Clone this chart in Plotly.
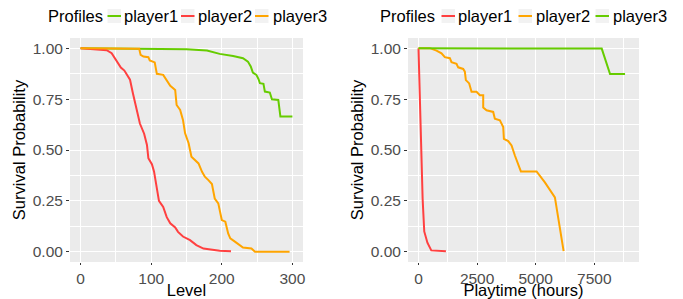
import plotly.graph_objects as go

# ---------------- Left panel: survival vs Level ----------------
lvl_p1_x = [0, 150, 179, 197, 216, 230, 237, 241, 244, 249, 252, 254, 259, 261, 268, 271, 280, 283, 300]
lvl_p1_y = [1.0, 0.995, 0.989, 0.972, 0.962, 0.951, 0.934, 0.91, 0.88, 0.869, 0.848, 0.828, 0.825, 0.787, 0.782, 0.749, 0.746, 0.664, 0.664]

lvl_p2_x = [0, 37, 44, 51, 57, 62, 68, 70, 74, 79, 84, 90, 94, 96, 101, 104, 108, 111, 117, 122, 127, 134, 138, 145, 155, 164, 174, 188, 197, 213]
lvl_p2_y = [1.0, 0.99, 0.975, 0.935, 0.905, 0.89, 0.86, 0.845, 0.78, 0.71, 0.63, 0.58, 0.525, 0.46, 0.43, 0.395, 0.32, 0.25, 0.22, 0.17, 0.14, 0.12, 0.098, 0.075, 0.057, 0.033, 0.016, 0.011, 0.005, 0.003]

lvl_p3_x = [0, 83, 85, 89, 96, 98, 105, 108, 117, 122, 127, 134, 136, 141, 145, 148, 153, 157, 162, 167, 172, 176, 181, 186, 190, 195, 200, 205, 209, 212, 219, 226, 230, 242, 247, 296]
lvl_p3_y = [1.0, 0.997, 0.967, 0.959, 0.956, 0.94, 0.93, 0.874, 0.869, 0.844, 0.815, 0.795, 0.721, 0.697, 0.648, 0.582, 0.533, 0.467, 0.451, 0.434, 0.393, 0.369, 0.352, 0.333, 0.262, 0.238, 0.156, 0.148, 0.09, 0.066, 0.049, 0.033, 0.021, 0.016, 0.0, 0.0]

# ---------------- Right panel: survival vs Playtime ----------------
pt_p1_x = [0, 60, 110, 176, 245, 380, 545, 1170]
pt_p1_y = [1.0, 0.75, 0.48, 0.26, 0.10, 0.045, 0.007, 0.003]

pt_p2_x = [0, 484, 768, 981, 1124, 1337, 1408, 1622, 1693, 1906, 1977, 2020, 2162, 2262, 2475, 2617, 2760, 2760, 2902, 3186, 3257, 3471, 3613, 3642, 3826, 3969, 4111, 4253, 4367, 5036, 5391, 5818, 6190]
pt_p2_y = [1.0, 1.0, 0.988, 0.975, 0.956, 0.951, 0.931, 0.923, 0.906, 0.898, 0.885, 0.843, 0.827, 0.786, 0.786, 0.769, 0.769, 0.708, 0.695, 0.687, 0.654, 0.646, 0.613, 0.555, 0.544, 0.522, 0.473, 0.432, 0.395, 0.395, 0.341, 0.267, 0.003]

pt_p3_x = [0, 3500, 4200, 7815, 8170, 8810]
pt_p3_y = [1.0, 1.0, 0.998, 0.998, 0.873, 0.873]

profile_names = ["player1", "player2", "player3"]
y_ticks = [0, 0.25, 0.5, 0.75, 1.0]
y_tick_labels = ["0.00", "0.25", "0.50", "0.75", "1.00"]
level_ticks = [0, 100, 200, 300]
playtime_ticks = [0, 2500, 5000, 7500]

GREEN = "#66CC00"
RED = "#FF4040"
ORANGE = "#FFA500"
left_colors = [GREEN, RED, ORANGE]
right_colors = [RED, ORANGE, GREEN]

FONT = "Liberation Sans, Arial, Helvetica, sans-serif"

# The page body has an 8px margin, so the figure is drawn 8px in from the
# window's top-left corner; size it so it fills the rest of the 683x299 window.
OFF = 8
W, H = 683 - OFF, 299 - OFF
# Panel area in window pixels (reference): left 70, right 639, top 38, bottom 262
ML, MR, MT, MB = 70 - OFF, 683 - 639, 38 - OFF, 299 - 262
PW, PH = W - ML - MR, H - MT - MB


def px(x):
    """window-pixel x -> paper fraction"""
    return (x - OFF - ML) / PW


def py(y):
    """window-pixel y -> paper fraction"""
    return (H - MB - (y - OFF)) / PH


fig = go.Figure()

left_series = [(lvl_p1_x, lvl_p1_y), (lvl_p2_x, lvl_p2_y), (lvl_p3_x, lvl_p3_y)]
for name, (xs, ys), col in zip(profile_names, left_series, left_colors):
    fig.add_trace(go.Scatter(x=xs, y=ys, mode="lines", name=name, showlegend=False,
                             line=dict(color=col, width=2), xaxis="x", yaxis="y"))

right_series = [(pt_p1_x, pt_p1_y), (pt_p2_x, pt_p2_y), (pt_p3_x, pt_p3_y)]
for name, (xs, ys), col in zip(profile_names, right_series, right_colors):
    fig.add_trace(go.Scatter(x=xs, y=ys, mode="lines", name=name, showlegend=False,
                             line=dict(color=col, width=2), xaxis="x2", yaxis="y2"))

tickfont = dict(family=FONT, size=15.5, color="#4D4D4D")
titlefont = dict(family=FONT, size=16.5, color="#000000")


def axis_common(ticklen, automargin):
    return dict(showgrid=True, gridcolor="white", gridwidth=1.2, zeroline=False,
                showline=False, ticks="outside", ticklen=ticklen, tickcolor="#333333",
                tickwidth=1, tickfont=tickfont, title_font=titlefont, automargin=automargin)


minor_y = dict(tickvals=[0.125, 0.375, 0.625, 0.875], showgrid=True, gridcolor="white", gridwidth=0.6, ticks="")

fig.update_layout(
    width=W, height=H,
    margin=dict(l=ML, r=MR, t=MT, b=MB, autoexpand=False),
    paper_bgcolor="white", plot_bgcolor="#EBEBEB",
    font=dict(family=FONT),
    showlegend=False,
    xaxis=dict(domain=[0, px(303)], range=[-15, 315], tickvals=level_ticks,
               minor=dict(tickvals=[50, 150, 250], showgrid=True, gridcolor="white", gridwidth=0.6, ticks=""),
               title=dict(text="Level", standoff=3), anchor="y", **axis_common(2, True)),
    yaxis=dict(domain=[0, 1], range=[-0.05, 1.05], tickvals=y_ticks, ticktext=y_tick_labels,
               minor=minor_y, title=dict(text="Survival Probability", standoff=2), anchor="x", **axis_common(3, False)),
    xaxis2=dict(domain=[px(408), 1], range=[-448, 9405], tickvals=playtime_ticks,
                minor=dict(tickvals=[1250, 3750, 6250, 8750], showgrid=True, gridcolor="white", gridwidth=0.6, ticks=""),
                title=dict(text="Playtime (hours)", standoff=3), anchor="y2", **axis_common(2, True)),
    yaxis2=dict(domain=[0, 1], range=[-0.05, 1.05], tickvals=y_ticks, ticktext=y_tick_labels,
                minor=minor_y, title=dict(text="Survival Probability", standoff=2), anchor="x2", **axis_common(3, False)),
)

# ---------------- ggplot-style legends (one per panel) ----------------
LEG_Y = 16
legend_layouts = [
    # (title x, key x starts, text x starts, colours) in window pixels
    (47, [107.5, 181, 255], [123, 197, 271.5], left_colors),
    (379, [441.5, 518.5, 595.5], [457, 534.5, 611.5], right_colors),
]
legfont = dict(family=FONT, size=16.5, color="black")
for title_x, key_xs, text_xs, cols in legend_layouts:
    fig.add_annotation(text="Profiles", x=px(title_x - 1), y=py(LEG_Y), xref="paper", yref="paper",
                       xanchor="left", yanchor="middle", showarrow=False, font=legfont)
    for name, kx, tx, col in zip(profile_names, key_xs, text_xs, cols):
        fig.add_shape(type="rect", xref="paper", yref="paper",
                      x0=px(kx), x1=px(kx + 13.5), y0=py(LEG_Y - 7), y1=py(LEG_Y + 7),
                      fillcolor="#F2F2F2", line=dict(width=0), layer="below")
        fig.add_shape(type="line", xref="paper", yref="paper",
                      x0=px(kx), x1=px(kx + 13.5), y0=py(LEG_Y), y1=py(LEG_Y),
                      line=dict(color=col, width=2))
        fig.add_annotation(text=name, x=px(tx - 1), y=py(LEG_Y), xref="paper", yref="paper",
                           xanchor="left", yanchor="middle", showarrow=False, font=legfont)

fig.write_html("out.html")
